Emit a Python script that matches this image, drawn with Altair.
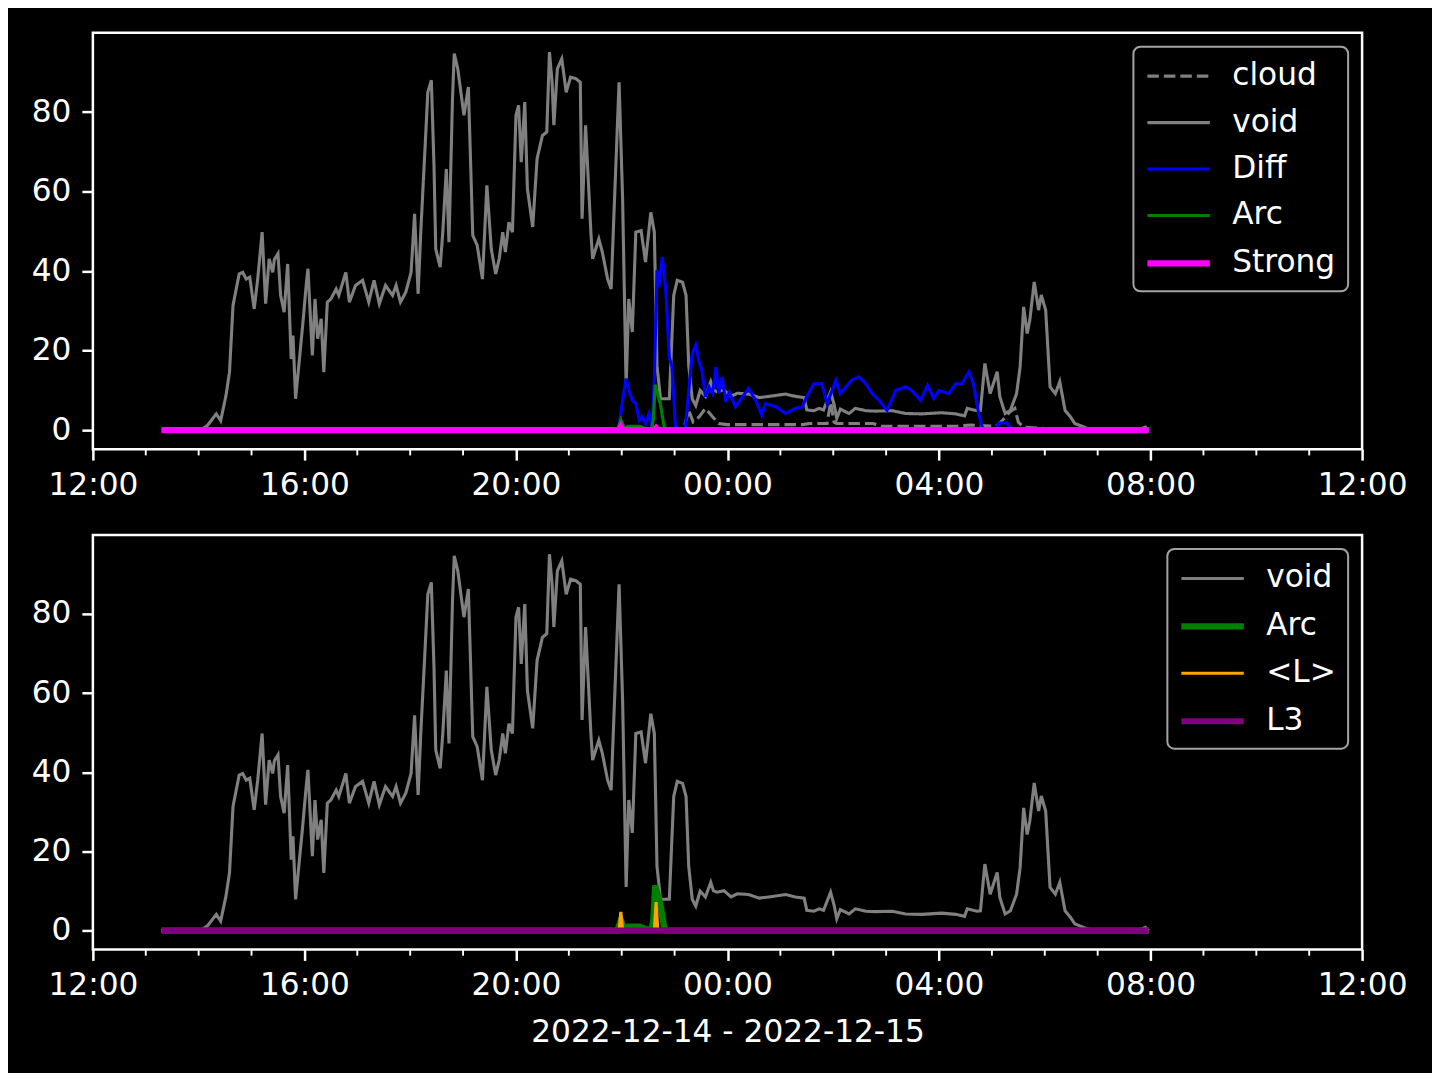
import altair as alt
import pandas as pd

# ---------------- data ----------------
DAY0 = "2022-12-14"
DAY1 = "2022-12-15"

TOP_SERIES = ["cloud", "void", "Diff", "Arc", "Strong"]
BOT_SERIES = ["void", "Arc", "<L>", "L3"]

VOID = [("13:18", 0), ("14:01", 0), ("14:06", 0.6), ("14:10", 1.2), ("14:20", 4.1), ("14:25", 2.4),
        ("14:31", 8.7), ("14:35", 14.6), ("14:39", 31.4), ("14:46", 39.3), ("14:50", 39.7), ("14:54", 38.0),
        ("14:58", 38.5), ("15:03", 30.5), ("15:07", 38.0), ("15:12", 49.8), ("15:16", 31.8), ("15:20", 43.1),
        ("15:24", 39.7), ("15:26", 43.0), ("15:30", 44.4), ("15:33", 33.9), ("15:37", 29.7), ("15:41", 41.8),
        ("15:45", 17.9), ("15:47", 23.8), ("15:50", 7.9), ("15:54", 17.1), ("15:58", 26.3), ("16:02", 36.4),
        ("16:04", 40.6), ("16:09", 18.8), ("16:12", 33.0), ("16:15", 23.0), ("16:19", 28.0), ("16:22", 14.6),
        ("16:26", 32.2), ("16:30", 33.0), ("16:36", 35.5), ("16:39", 33.9), ("16:47", 39.7), ("16:51", 32.2),
        ("16:58", 36.4), ("17:06", 37.7), ("17:13", 32.2), ("17:19", 37.7), ("17:25", 31.8), ("17:32", 36.4),
        ("17:40", 33.9), ("17:44", 36.4), ("17:49", 32.2), ("17:55", 34.7), ("18:01", 39.7), ("18:05", 54.4),
        ("18:09", 34.3), ("18:12", 49.8), ("18:17", 71.6), ("18:20", 85.0), ("18:24", 88.0), ("18:27", 66.6),
        ("18:29", 45.6), ("18:34", 41.0), ("18:37", 49.8), ("18:41", 65.7), ("18:44", 47.3), ("18:48", 83.3),
        ("18:50", 94.7), ("18:54", 90.9), ("18:58", 84.2), ("19:01", 79.2), ("19:06", 86.3), ("19:11", 49.0),
        ("19:16", 46.5), ("19:22", 38.0), ("19:27", 61.6), ("19:32", 45.6), ("19:37", 39.3), ("19:41", 43.1),
        ("19:45", 49.8), ("19:48", 44.8), ("19:52", 52.3), ("19:56", 49.8), ("20:00", 79.2), ("20:03", 81.7),
        ("20:06", 67.4), ("20:10", 82.5), ("20:13", 60.7), ("20:19", 51.1), ("20:24", 68.3), ("20:30", 74.1),
        ("20:35", 75.0), ("20:38", 95.1), ("20:41", 87.5), ("20:43", 76.7), ("20:47", 90.9), ("20:52", 93.4),
        ("20:57", 85.0), ("21:02", 88.8), ("21:08", 88.4), ("21:13", 87.5), ("21:15", 53.2), ("21:19", 76.7),
        ("21:25", 49.8), ("21:27", 43.1), ("21:34", 48.1), ("21:38", 44.8), ("21:44", 38.0), ("21:48", 35.5),
        ("21:51", 53.2), ("21:57", 87.5), ("22:01", 58.2), ("22:05", 11.0), ("22:08", 33.0), ("22:12", 24.7),
        ("22:16", 49.8), ("22:22", 50.2), ("22:27", 42.3), ("22:33", 54.8), ("22:37", 49.8), ("22:40", 16.3),
        ("22:44", 7.9), ("22:54", 7.9), ("22:59", 33.9), ("23:03", 37.7), ("23:09", 37.2), ("23:13", 33.9),
        ("23:16", 16.3), ("23:20", 7.9), ("23:24", 6.2), ("23:29", 10.0), ("23:35", 8.5), ("23:41", 12.2),
        ("23:44", 10.1), ("23:48", 9.7), ("23:56", 10.1), ("00:04", 8.5), ("00:11", 9.3), ("00:24", 9.1),
        ("00:36", 8.2), ("00:47", 8.5), ("01:06", 9.1), ("01:17", 8.5), ("01:27", 8.2), ("01:30", 5.1),
        ("01:38", 4.9), ("01:44", 5.5), ("01:49", 5.1), ("01:57", 9.7), ("02:01", 6.4), ("02:04", 3.0),
        ("02:08", 5.3), ("02:18", 4.2), ("02:25", 5.5), ("02:37", 4.9), ("02:48", 4.8), ("03:07", 4.9),
        ("03:22", 4.2), ("03:41", 4.1), ("04:03", 4.4), ("04:19", 4.1), ("04:29", 3.6), ("04:32", 5.5),
        ("04:43", 4.9), ("04:47", 5.0), ("04:52", 16.8), ("04:58", 9.2), ("05:06", 14.7), ("05:09", 8.4),
        ("05:15", 4.2), ("05:21", 5.0), ("05:28", 9.2), ("05:32", 15.9), ("05:36", 31.0), ("05:40", 24.3),
        ("05:43", 27.7), ("05:48", 37.3), ("05:53", 30.2), ("05:56", 34.0), ("06:01", 30.2), ("06:06", 10.9),
        ("06:12", 9.2), ("06:17", 12.2), ("06:23", 5.0), ("06:29", 3.4), ("06:34", 1.7), ("06:42", 1.0),
        ("06:50", 0.3), ("07:01", 0.0), ("07:46", 0.0), ("07:54", 0.8), ("07:58", 0.0)]

CLOUD = [("13:18", 0), ("23:10", 0), ("23:16", 5.0), ("23:21", 2.1), ("23:28", 3.4), ("23:35", 5.5),
         ("23:43", 3.4), ("23:50", 1.7), ("00:00", 1.4), ("01:25", 1.4), ("01:33", 1.7), ("01:53", 1.7),
         ("01:57", 7.0), ("02:01", 2.0), ("02:04", 1.7), ("02:45", 1.7), ("02:55", 1.0), ("04:20", 1.0),
         ("04:35", 1.3), ("05:05", 1.0), ("05:12", 2.5), ("05:20", 4.5), ("05:26", 5.5), ("05:30", 2.0),
         ("05:36", 0.8), ("06:00", 0.4), ("07:58", 0.0)]

DIFF = [("13:18", 0), ("21:55", 0), ("21:57", 0.8), ("22:01", 7.5), ("22:05", 13.0), ("22:08", 10.0),
        ("22:12", 7.5), ("22:16", 6.7), ("22:20", 2.5), ("22:23", 3.4), ("22:27", 1.7), ("22:31", 4.2),
        ("22:34", 0.8), ("22:37", 12.6), ("22:40", 40.3), ("22:42", 36.0), ("22:46", 43.6), ("22:50", 35.2),
        ("22:54", 18.4), ("22:57", 15.9), ("23:01", 0.8), ("23:05", 0), ("23:12", 0), ("23:14", 5.0),
        ("23:20", 19.3), ("23:24", 21.4), ("23:28", 17.0), ("23:31", 15.1), ("23:35", 8.4), ("23:39", 10.9),
        ("23:43", 9.2), ("23:47", 15.9), ("23:50", 9.2), ("23:54", 13.4), ("23:58", 7.1), ("00:02", 9.6),
        ("00:09", 5.9), ("00:17", 8.4), ("00:24", 10.5), ("00:32", 7.5), ("00:39", 3.8), ("00:43", 6.7),
        ("00:55", 5.9), ("01:06", 4.2), ("01:17", 5.5), ("01:25", 5.9), ("01:29", 8.0), ("01:38", 11.7),
        ("01:47", 11.7), ("01:53", 6.7), ("02:03", 12.6), ("02:08", 9.2), ("02:16", 11.3), ("02:21", 12.6),
        ("02:29", 13.4), ("02:37", 11.7), ("02:44", 9.2), ("02:52", 7.5), ("03:01", 5.0), ("03:11", 10.0),
        ("03:22", 10.9), ("03:29", 10.0), ("03:39", 7.5), ("03:47", 11.3), ("03:54", 8.0), ("04:00", 10.0),
        ("04:11", 9.2), ("04:19", 11.7), ("04:26", 11.7), ("04:34", 14.7), ("04:39", 11.7), ("04:45", 4.2),
        ("04:49", 0.8), ("04:52", 0), ("05:04", 0.3), ("05:08", 1.8), ("05:17", 1.8), ("05:22", 0.5),
        ("05:28", 0), ("07:58", 0)]

ARC = [("13:18", 0), ("21:55", 0), ("21:59", 2.6), ("22:03", 0.5), ("22:08", 1.0), ("22:20", 1.0),
       ("22:28", 0.3), ("22:34", 0.3), ("22:36", 3.0), ("22:38", 11.4), ("22:44", 6.4), ("22:48", 1.0),
       ("22:50", 0), ("07:58", 0)]

LMEAN = [("13:18", 0), ("21:57", 0), ("21:59", 4.7), ("22:01", 0), ("22:37", 0), ("22:39", 7.2),
         ("22:41", 0), ("07:58", 0)]

STRONG = [("13:18", 0), ("21:57", 0), ("21:59", 0.8), ("22:01", 0), ("22:37", 0), ("22:39", 0.5),
          ("22:41", 0), ("07:58", 0)]

L3 = [("13:18", 0), ("07:58", 0)]

MAJOR_HOURS = [12, 16, 20, 0, 4, 8, 12]
MINOR_HOURS = [13, 14, 15, 17, 18, 19, 21, 22, 23, 1, 2, 3, 5, 6, 7, 9, 10, 11]
Y_TICKS = [0, 20, 40, 60, 80]
X_TITLE = "2022-12-14 - 2022-12-15"

# ---------------- styles ----------------
TOP_COLORS = ["gray", "gray", "blue", "green", "magenta"]
TOP_DASH = [[11.5, 5], [1, 0], [1, 0], [1, 0], [1, 0]]
TOP_WIDTH = [3.1, 3.1, 3.1, 3.1, 6.25]
BOT_COLORS = ["gray", "green", "orange", "purple"]
BOT_WIDTH = [3.1, 6.25, 3.1, 6.25]
FONT = "DejaVu Sans"
FS = 31.25


def ts(hhmm):
    h = int(hhmm[:2])
    day = DAY0 if h >= 12 else DAY1
    return pd.Timestamp(f"{day} {hhmm}")


def frame(name, pts):
    return pd.DataFrame({"t": [ts(a) for a, _ in pts], "v": [b for _, b in pts], "s": name})


def dt(h, first_day):
    return alt.DateTime(year=2022, month=12, date=14 if first_day else 15, hours=h)


major_vals = []
day_flag = True
for i, h in enumerate(MAJOR_HOURS):
    if i > 0 and h < MAJOR_HOURS[i - 1]:
        day_flag = False
    if i == len(MAJOR_HOURS) - 1:
        day_flag = False
    major_vals.append(dt(h, day_flag))

x_domain = [dt(12, True), dt(12, False)]
minor_df = pd.DataFrame({"t": [ts(f"{h:02d}:00") for h in MINOR_HOURS]})


def x_enc(title):
    kw = dict(values=major_vals, format="%H:%M", labelFontSize=FS, labelFont=FONT, tickSize=11,
              tickWidth=2.5, labelPadding=9.5, labelFlush=False, labelOverlap=False, grid=False,
              domain=False, tickColor="white", labelColor="white")
    if title:
        kw.update(titleFontSize=FS, titleFont=FONT, titleFontWeight="normal", titleColor="white",
                  titlePadding=15)
    return alt.X("t:T", scale=alt.Scale(domain=x_domain), axis=alt.Axis(**kw),
                 title=title if title else None)


y_enc = alt.Y("v:Q", scale=alt.Scale(domain=[-4.76, 99.96], nice=False, zero=False),
              axis=alt.Axis(values=Y_TICKS, format="d", labelFontSize=FS, labelFont=FONT, tickSize=11,
                            tickWidth=2.5, labelPadding=11, grid=False, domain=False,
                            tickColor="white", labelColor="white"),
              title=None)


def legend():
    return alt.Legend(title=None, orient="top-right", offset=14, symbolType="M0,0H4", symbolSize=977,
                      symbolOffset=-17, labelFontSize=FS, labelFont=FONT, labelColor="white",
                      labelOffset=66, rowPadding=13.5, padding=12, fillColor="black",
                      strokeColor="#a3a3a3", cornerRadius=7)


def panel(df, series, colors, dashes, widths, height, title):
    enc = dict(
        x=x_enc(title), y=y_enc,
        color=alt.Color("s:N", scale=alt.Scale(domain=series, range=colors), legend=legend()),
        strokeWidth=alt.StrokeWidth("s:N", scale=alt.Scale(type="ordinal", domain=series, range=widths),
                                    legend=legend()),
    )
    if dashes is not None:
        enc["strokeDash"] = alt.StrokeDash("s:N", scale=alt.Scale(domain=series, range=dashes),
                                           legend=legend())
    base = alt.Chart(df)
    layers = [base.transform_filter(alt.datum.s == name).mark_line().encode(**enc) for name in series]
    minor = alt.Chart(minor_df).mark_rule(color="white", strokeWidth=1.9).encode(
        x=x_enc(title), y=alt.value(height), y2=alt.value(height + 6.25))
    return alt.layer(*layers, minor).properties(width=1271, height=height)


top_df = pd.concat([frame("cloud", CLOUD), frame("void", VOID), frame("Diff", DIFF),
                    frame("Arc", ARC), frame("Strong", STRONG)], ignore_index=True)
bot_df = pd.concat([frame("void", VOID), frame("Arc", ARC), frame("<L>", LMEAN), frame("L3", L3)],
                   ignore_index=True)

top = panel(top_df, TOP_SERIES, TOP_COLORS, TOP_DASH, TOP_WIDTH, 417, None)
bottom = panel(bot_df, BOT_SERIES, BOT_COLORS, None, BOT_WIDTH, 415, X_TITLE)

chart = (
    alt.vconcat(top, bottom, spacing=86, bounds="flush")
    .resolve_scale(color="independent", strokeDash="independent", strokeWidth="independent")
    .resolve_legend(color="independent", strokeDash="independent", strokeWidth="independent")
    .properties(padding={"left": 21, "top": 22, "right": 23, "bottom": 23}, background="black")
    .configure(font=FONT)
    .configure_view(stroke="white", strokeWidth=2.5)
    .configure_legend(strokeWidth=2)
)

chart.save("out.html", embed_options={"renderer": "svg", "actions": False})
